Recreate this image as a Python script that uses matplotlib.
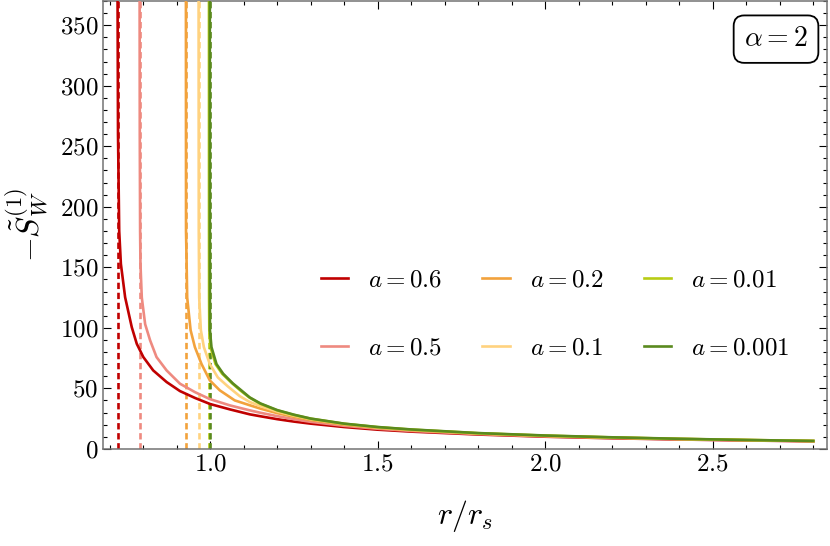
import matplotlib
matplotlib.use("Agg")
import matplotlib.pyplot as plt
from matplotlib.ticker import MultipleLocator, FormatStrFormatter

# valores: r/r_s y -S_W^(1) para cada a
r_06 = [0.7236, 0.7250, 0.7286, 0.7336, 0.7463, 0.7661, 0.781, 0.8006, 0.830, 0.870, 0.910,
        0.955, 1.0, 1.06, 1.118, 1.15, 1.2, 1.25, 1.3, 1.4, 1.5, 1.6, 1.8, 2.0, 2.2, 2.4, 2.6, 2.8]
s_06 = [380, 260, 180, 152.8, 125.2, 100.5, 86.8, 75.8, 64.8, 55.2, 47.7,
        42, 37, 32.5, 28.5, 26.9, 24.5, 22.5, 20.8, 18, 15.8, 14.2, 11.8, 10, 8.7, 7.7, 6.9, 6.2]

r_05 = [0.7895, 0.7900, 0.791, 0.792, 0.796, 0.806, 0.821, 0.840, 0.870, 0.910,
        0.955, 1.0, 1.06, 1.118, 1.15, 1.2, 1.25, 1.3, 1.4, 1.5, 1.6, 1.8, 2.0, 2.2, 2.4, 2.6, 2.8]
s_05 = [380, 260, 180, 153, 125, 103, 89.5, 75.8, 64.8, 53.8,
        46.8, 41, 35.8, 31.8, 29.8, 27, 24.5, 22.3, 19, 16.6, 14.8, 12.2, 10.3, 9.0, 7.9, 7.1, 6.3]

r_02 = [0.9277, 0.9280, 0.9298, 0.9315, 0.9417, 0.9545, 0.9744, 0.9991, 1.0289, 1.0735,
        1.1182, 1.15, 1.2, 1.25, 1.3, 1.4, 1.5, 1.6, 1.8, 2.0, 2.2, 2.4, 2.6, 2.8]
s_02 = [380, 180, 153, 125, 98, 84, 70, 56.5, 48.3, 40,
        36, 33.2, 29.5, 26.4, 23.8, 20, 17.3, 15.4, 12.6, 10.6, 9.2, 8.1, 7.2, 6.4]

r_01 = [0.9655, 0.9660, 0.9673, 0.9723, 0.9813, 0.9991, 1.0229, 1.0527, 1.0884,
        1.1182, 1.15, 1.2, 1.25, 1.3, 1.4, 1.5, 1.6, 1.8, 2.0, 2.2, 2.4, 2.6, 2.8]
s_01 = [380, 180, 125, 98, 84, 70, 59, 51.6, 43.5,
        38.7, 35.3, 30.8, 27.4, 24.5, 20.5, 17.7, 15.7, 12.8, 10.8, 9.4, 8.2, 7.3, 6.5]

r_001 = [0.9965, 0.9966, 0.9968, 0.9975, 1.001, 1.016, 1.036, 1.066, 1.091,
         1.118, 1.15, 1.2, 1.25, 1.3, 1.4, 1.5, 1.6, 1.8, 2.0, 2.2, 2.4, 2.6, 2.8]
s_001 = [380, 180, 125, 98, 84, 70, 62, 54, 48,
         42.2, 37.2, 31.8, 28, 24.9, 20.7, 17.9, 15.9, 12.9, 10.9, 9.4, 8.2, 7.3, 6.5]

r_0001 = [0.9990, 0.9991, 0.9993, 1.004, 1.019, 1.039, 1.068, 1.093,
          1.118, 1.15, 1.2, 1.25, 1.3, 1.4, 1.5, 1.6, 1.8, 2.0, 2.2, 2.4, 2.6, 2.8]
s_0001 = [380, 180, 98, 84, 70, 62, 54, 48.3,
          42.5, 37.5, 32, 28.2, 25, 20.8, 18, 16, 13, 11, 9.5, 8.3, 7.3, 6.5]

horizontes = [0.7236, 0.7895, 0.9277, 0.9655, 0.9965, 0.9990]
etiquetas = [r"$a=0.6$", r"$a=0.5$", r"$a=0.2$", r"$a=0.1$", r"$a=0.01$", r"$a=0.001$"]
colores = ["#c00000", "#ee8a80", "#f2a23c", "#ffd27f", "#b8cc14", "#5a8a1e"]

plt.rcParams["mathtext.fontset"] = "cm"
plt.rcParams["font.family"] = "serif"
plt.rcParams["font.serif"] = ["cmr10", "DejaVu Serif"]
plt.rcParams["axes.unicode_minus"] = False

fig = plt.figure(figsize=(8.3, 5.46), dpi=100)
ax = fig.add_axes([0.124, 0.178, 0.872, 0.82])

curvas = [(r_06, s_06), (r_05, s_05), (r_02, s_02), (r_01, s_01), (r_001, s_001), (r_0001, s_0001)]
for (r, s), rh, lab, col in zip(curvas, horizontes, etiquetas, colores):
    ax.axvline(rh, color=col, lw=1.9, ls=(0, (2.4, 1.4)), zorder=2)
    ax.plot(r, s, color=col, lw=1.9, label=lab, zorder=3)

ax.set_xlim(0.68, 2.84)
ax.set_ylim(0, 370)
ax.xaxis.set_major_locator(MultipleLocator(0.5))
ax.xaxis.set_minor_locator(MultipleLocator(0.1))
ax.yaxis.set_major_locator(MultipleLocator(50))
ax.yaxis.set_minor_locator(MultipleLocator(10))
ax.xaxis.set_major_formatter(FormatStrFormatter(r"$%.1f$"))
ax.yaxis.set_major_formatter(FormatStrFormatter(r"$%d$"))
ax.tick_params(which="both", direction="in", top=True, right=True, labelsize=18)
ax.tick_params(which="major", length=6, width=0.8)
ax.tick_params(which="minor", length=3, width=0.8)
for sp in ax.spines.values():
    sp.set_color("0.45")
    sp.set_linewidth(1.1)

ax.set_xlabel(r"$r/r_s$", fontsize=23, labelpad=16)
ax.set_ylabel(r"$-\tilde{S}_W^{(1)}$", fontsize=23, labelpad=6)

ax.legend(loc="center", bbox_to_anchor=(0.625, 0.30), ncol=3, frameon=False,
          fontsize=18, handlelength=1.1, handletextpad=0.8, columnspacing=1.6,
          labelspacing=1.8)

ax.text(0.93, 0.915, r"$\alpha = 2$", transform=ax.transAxes, ha="center", va="center",
        fontsize=20, bbox=dict(boxstyle="round,pad=0.38", fc="white", ec="black", lw=1.3))

plt.savefig("out.png", dpi=100)
